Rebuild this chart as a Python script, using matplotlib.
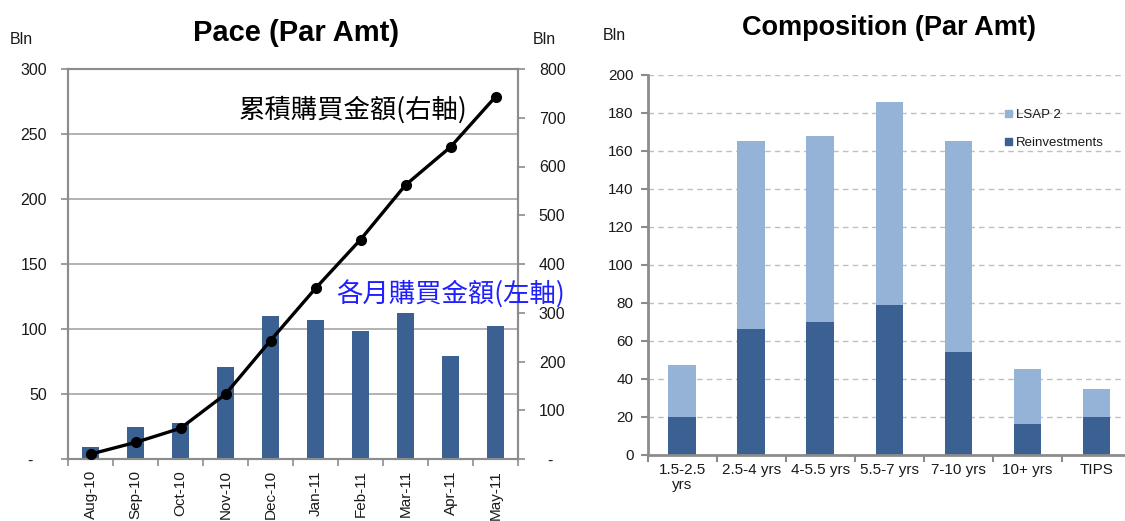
import matplotlib
matplotlib.use("Agg")
import matplotlib.pyplot as plt
from matplotlib.patches import Patch

plt.rcParams['font.family'] = ['Liberation Sans', 'DejaVu Sans']

# ---------------- data ----------------
months = ["Aug-10", "Sep-10", "Oct-10", "Nov-10", "Dec-10",
          "Jan-11", "Feb-11", "Mar-11", "Apr-11", "May-11"]
monthly = [9, 25, 27.5, 71, 110, 107, 98.5, 112, 79, 102]
cumulative = [10, 34, 63, 133, 243, 350, 450, 562, 640, 743]
left_ticks = [0, 50, 100, 150, 200, 250, 300]
left_labels = ["-   ", "50", "100", "150", "200", "250", "300"]
right_ticks = [0, 100, 200, 300, 400, 500, 600, 700, 800]
right_labels = ["  -", "100", "200", "300", "400", "500", "600", "700", "800"]

buckets = ["1.5-2.5\nyrs", "2.5-4 yrs", "4-5.5 yrs", "5.5-7 yrs",
           "7-10 yrs", "10+ yrs", "TIPS"]
reinvestments = [20, 66, 70, 79, 54, 16, 19.5]
lsap2 = [27, 99, 98, 107, 111, 29, 15]
comp_ticks = [0, 20, 40, 60, 80, 100, 120, 140, 160, 180, 200]

# ---------------- style ----------------
W, H = 1125, 521
fig = plt.figure(figsize=(W / 100, H / 100), dpi=100)
dark = '#3A6191'
light = '#95B3D7'
spine_c = '#8C8C8C'
grid_c = '#A6A6A6'
txt_c = '#1A1A1A'
cjk = ['Noto Sans CJK TC', 'DejaVu Sans']

# ---------------- left chart ----------------
ax = fig.add_axes([68 / W, (H - 459) / H, 450 / W, 390 / H])
x = list(range(len(months)))
ax.bar(x, monthly, width=0.37, color=dark, zorder=2)
ax.set_xlim(-0.5, len(months) - 0.5)
ax.set_ylim(0, 300)
ax.set_yticks(left_ticks)
ax.set_yticklabels(left_labels)
for v in left_ticks[1:-1]:
    ax.axhline(v, color=grid_c, lw=1.2, zorder=1)
ax.set_xticks(x)
ax.set_xticklabels(months, rotation=90, fontsize=11, color=txt_c)
ax.set_xticks([i - 0.5 for i in range(len(months) + 1)], minor=True)
ax.tick_params(axis='x', which='major', length=0, pad=8)
ax.tick_params(axis='x', which='minor', length=5, color=spine_c, width=1.2)
ax.tick_params(axis='y', length=5, color=spine_c, width=1.2, pad=10,
               labelsize=11.5, labelcolor=txt_c)
for s in ax.spines.values():
    s.set_color(spine_c)
    s.set_linewidth(1.5)

ax2 = ax.twinx()
ax2.plot(x, cumulative, color='black', lw=2.4, marker='o', markersize=7,
         zorder=3)
ax2.set_ylim(0, 800)
ax2.set_yticks(right_ticks)
ax2.set_yticklabels(right_labels)
ax2.tick_params(axis='y', length=5, color=spine_c, width=1.2, pad=10,
                labelsize=11.5, labelcolor=txt_c)
for s in ax2.spines.values():
    s.set_color(spine_c)
    s.set_linewidth(1.5)

fig.text(296 / W, 1 - 33 / H, "Pace (Par Amt)", ha='center', va='center',
         fontsize=21, fontweight='bold', color='black')
fig.text(10 / W, 1 - 40 / H, "Bln", ha='left', va='center', fontsize=11.5,
         color=txt_c)
fig.text(533 / W, 1 - 40 / H, "Bln", ha='left', va='center', fontsize=11.5,
         color=txt_c)
fig.text(239 / W, 1 - 110 / H, "累積購買金額(右軸)", ha='left', va='center',
         fontsize=19, color='black', family=cjk)
fig.text(336 / W, 1 - 295 / H, "各月購買金額(左軸)", ha='left', va='center',
         fontsize=19, color='#1F1FFF', family=cjk)

# ---------------- right chart ----------------
bx = fig.add_axes([647.5 / W, (H - 454.5) / H, 483.7 / W, 379.5 / H])
xb = list(range(len(buckets)))
bx.bar(xb, reinvestments, width=0.4, color=dark, zorder=2,
       label='Reinvestments')
bx.bar(xb, lsap2, width=0.4, bottom=reinvestments, color=light, zorder=2,
       label='LSAP 2')
bx.set_xlim(-0.5, len(buckets) - 0.5)
bx.set_ylim(0, 200)
bx.set_yticks(comp_ticks)
bx.yaxis.grid(True, color='#BFBFBF', linestyle=(0, (4, 3)), lw=1.0, zorder=0)
bx.set_axisbelow(True)
bx.set_xticks(xb)
bx.set_xticklabels(buckets, fontsize=11, color=txt_c, linespacing=1.1)
bx.set_xticks([i - 0.5 for i in range(len(buckets) + 1)], minor=True)
bx.tick_params(axis='x', which='major', length=0, pad=6)
bx.tick_params(axis='x', which='minor', length=5, color=spine_c, width=1.5)
bx.tick_params(axis='y', length=5, color=spine_c, width=1.5, pad=5,
               labelsize=11, labelcolor=txt_c)
for side in ['top', 'right']:
    bx.spines[side].set_visible(False)
for side in ['left', 'bottom']:
    bx.spines[side].set_color(spine_c)
    bx.spines[side].set_linewidth(2)

handles = [Patch(color=light, label='LSAP 2'),
           Patch(color=dark, label='Reinvestments')]
bx.legend(handles=handles, loc='upper left',
          bbox_to_anchor=((1000 - 647.5) / 483.7, (454.5 - 104) / 379.5),
          frameon=False, fontsize=9.5, handlelength=0.5, handleheight=0.5,
          handletextpad=0.3, labelspacing=1.2, borderaxespad=0,
          labelcolor=txt_c)

fig.text(889 / W, 1 - 28 / H, "Composition (Par Amt)", ha='center',
         va='center', fontsize=19.5, fontweight='bold', color='black')
fig.text(603 / W, 1 - 35 / H, "Bln", ha='left', va='center', fontsize=11.5,
         color=txt_c)

fig.savefig("out.png", dpi=100)
